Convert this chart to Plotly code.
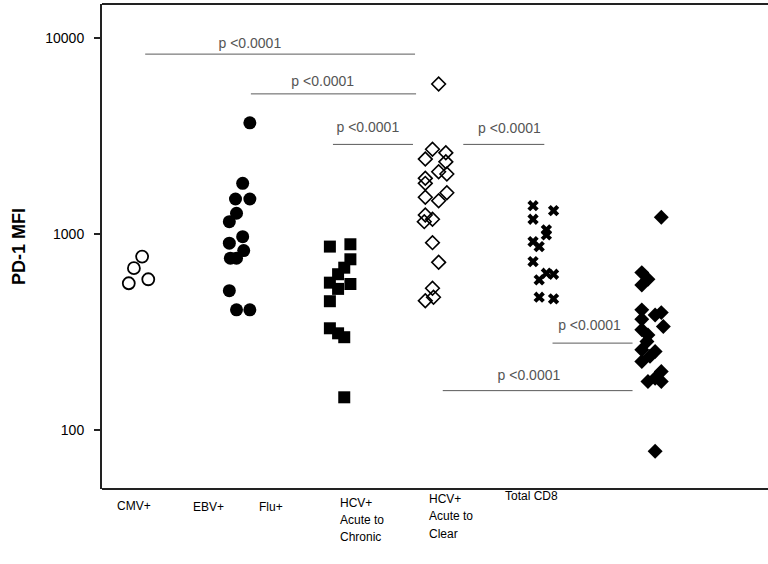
import plotly.graph_objects as go

# ---- data -------------------------------------------------------------
groups = ["CMV+", "EBV+", "Flu+", "HCV+ Acute to Chronic", "HCV+ Acute to Clear", "Total CD8"]
label_lines = [["CMV+"], ["EBV+"], ["Flu+"], ["HCV+", "Acute to", "Chronic"],
               ["HCV+", "Acute to", "Clear"], ["Total CD8"]]

cmv_mfi = [769, 671, 589, 562]
cmv_jitter = [0.04, -0.04, 0.10, -0.09]

ebv_mfi = [3707, 1820, 1514, 1514, 1280, 1159, 972, 900, 825, 755, 755, 515, 411, 411]
ebv_jitter = [0.09, 0.02, -0.05, 0.09, -0.04, -0.11, 0.02, -0.11, 0.03, -0.10, -0.04, -0.11, -0.04, 0.09]

flu_mfi = [865, 889, 745, 675, 625, 566, 557, 526, 455, 331, 312, 298, 147]
flu_jitter = [-0.13, 0.07, 0.07, 0.01, -0.05, -0.13, 0.07, -0.05, -0.13, -0.13, -0.05, 0.01, 0.01]

chronic_mfi = [5850, 2716, 2606, 2421, 2344, 2085, 2030, 1931, 1820, 1630,
               1545, 1484, 1254, 1193, 1160, 906, 719, 530, 477, 458]
chronic_jitter = [-0.07, -0.13, 0.00, -0.20, 0.00, -0.07, 0.01, -0.20, -0.20, 0.01,
                  -0.20, -0.07, -0.20, -0.13, -0.21, -0.13, -0.07, -0.13, -0.12, -0.20]

clear_mfi = [1399, 1320, 1193, 1052, 992, 917, 865, 725, 632, 625, 585, 477, 468]
clear_jitter = [-0.15, 0.05, -0.15, -0.02, -0.02, -0.15, -0.09, -0.15, -0.02, 0.05, -0.09, -0.09, 0.05]

cd8_mfi = [1221, 637, 589, 551, 411, 398, 387, 368, 338, 325, 306, 283, 257,
           252, 238, 224, 199, 184, 177, 177, 78]
cd8_jitter = [0.10, -0.09, -0.03, -0.09, -0.09, 0.10, 0.04, -0.09, 0.12, -0.09, -0.03,
              -0.04, -0.09, 0.04, -0.01, -0.09, 0.10, 0.04, -0.03, 0.10, 0.04]

# pairwise comparisons: (from x, to x, bar level, label x, label level)
comparisons = [
    (0.07, 2.70, 8318, 1.09, 9353),
    (1.10, 2.71, 5211, 1.80, 5986),
    (1.90, 2.68, 2877, 2.24, 3483),
    (3.17, 3.96, 2877, 3.62, 3443),
    (4.04, 4.82, 278, 4.40, 338),
    (2.97, 4.82, 159, 3.81, 188),
]
p_label = "p <0.0001"

# ---- figure -----------------------------------------------------------
FONT = "Liberation Sans, Arial, sans-serif"
AXIS = "#222222"

series = [
    (cmv_mfi, cmv_jitter, dict(symbol="circle-open", size=12, color="black", line=dict(width=1.8))),
    (ebv_mfi, ebv_jitter, dict(symbol="circle", size=13, color="black")),
    (flu_mfi, flu_jitter, dict(symbol="square", size=12, color="black")),
    (chronic_mfi, chronic_jitter, dict(symbol="diamond-open", size=10.5, color="black", line=dict(width=1.6))),
    (clear_mfi, clear_jitter, dict(symbol="x", size=10, color="black")),
    (cd8_mfi, cd8_jitter, dict(symbol="diamond", size=11.5, color="black")),
]

fig = go.Figure()
for i, (vals, jit, mk) in enumerate(series):
    fig.add_trace(go.Scatter(x=[i + j for j in jit], y=vals, mode="markers", marker=mk))

for x0, x1, lvl, tx, tlvl in comparisons:
    fig.add_trace(go.Scatter(x=[x0, x1], y=[lvl, lvl], mode="lines",
                             line=dict(color="#5a5a5a", width=1)))
    fig.add_trace(go.Scatter(x=[tx], y=[tlvl], mode="text", text=[p_label],
                             textfont=dict(family=FONT, size=14, color="#555555")))

# category labels under the axis (one annotation per text line)
label_left = [-0.224, 0.517, 1.160, 1.949, 2.817, 3.558]
label_first_line = [-0.036, -0.038, -0.037, -0.028, -0.021, -0.014]
line_step = 0.0355
annotations = []
for i, lines in enumerate(label_lines):
    for k, txt in enumerate(lines):
        annotations.append(dict(
            x=label_left[i], xref="x", xanchor="left",
            y=label_first_line[i] - k * line_step, yref="paper", yanchor="middle",
            text=txt, showarrow=False,
            font=dict(family=FONT, size=12, color="black")))

annotations.append(dict(
    x=-0.1255, xref="paper", xanchor="center", y=0.5, yref="paper", yanchor="middle",
    text="<b>PD-1 MFI</b>", textangle=-90, showarrow=False,
    font=dict(family=FONT, size=18, color="black")))

# top and bottom frame lines (the frame stays open on the right)
frame = [
    dict(type="line", xref="paper", yref="paper", x0=0, x1=1.01, y0=0, y1=0,
         line=dict(color=AXIS, width=2)),
    dict(type="line", xref="paper", yref="paper", x0=0, x1=1.01, y0=1, y1=1,
         line=dict(color=AXIS, width=2)),
]

fig.update_layout(
    width=768, height=564,
    margin=dict(l=102, r=0, t=4, b=75),
    paper_bgcolor="white", plot_bgcolor="white",
    font=dict(family=FONT, color="black"),
    annotations=annotations,
    shapes=frame,
    showlegend=False,
)
fig.update_xaxes(
    range=[-0.351, 6.140], showgrid=False, zeroline=False,
    showticklabels=False, ticks="", showline=False,
)
fig.update_yaxes(
    type="log", range=[1.699, 4.176], showgrid=False, zeroline=False,
    tickvals=[100, 1000, 10000], ticktext=["100", "1000", "10000"],
    ticks="outside", ticklen=6, tickwidth=1.5, tickcolor=AXIS,
    ticklabelstandoff=7,
    tickfont=dict(family=FONT, size=14, color="black"),
    showline=True, linecolor=AXIS, linewidth=2, mirror=False,
)

fig.write_html("out.html")
